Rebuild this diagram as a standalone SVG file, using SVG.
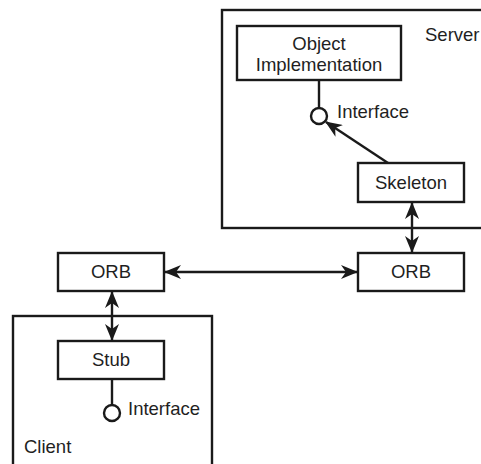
<svg xmlns="http://www.w3.org/2000/svg" width="481" height="464" viewBox="0 0 481 464">
  <style>
    .box { fill: #fff; stroke: #1a1a1a; stroke-width: 2.4; }
    .area { fill: none; stroke: #1a1a1a; stroke-width: 2.4; }
    .line { fill: none; stroke: #1a1a1a; stroke-width: 2.4; }
    .port { fill: #fff; stroke: #1a1a1a; stroke-width: 2.4; }
    text { font-family: "Liberation Sans", Arial, sans-serif; font-size: 18.5px; fill: #1f1f1f; }
    .c { text-anchor: middle; }
  </style>
  <defs>
    <marker id="head" viewBox="0 0 17 14" refX="16" refY="7" markerWidth="17" markerHeight="14" markerUnits="userSpaceOnUse" orient="auto-start-reverse">
      <path d="M0,0 L17,7 L0,14 L5,7 Z" fill="#1a1a1a"/>
    </marker>
  </defs>
  <rect width="481" height="464" fill="#fff"/>

  <!-- Server process (right side runs past the page edge) -->
  <g id="server">
    <rect class="area" x="222" y="10" width="280" height="218"/>
    <text x="425" y="41">Server</text>
  </g>

  <!-- Client process (bottom runs past the page edge) -->
  <g id="client">
    <rect class="area" x="13" y="316" width="199" height="170"/>
    <text x="24" y="453">Client</text>
  </g>

  <g id="object-implementation">
    <rect class="box" x="237" y="26" width="164" height="54"/>
    <text class="c" x="319" y="50">Object</text>
    <text class="c" x="319" y="71">Implementation</text>
  </g>

  <g id="server-interface">
    <line class="line" x1="319" y1="80" x2="319" y2="108"/>
    <circle class="port" cx="319" cy="116" r="8"/>
    <text x="337" y="118">Interface</text>
  </g>

  <g id="skeleton">
    <rect class="box" x="358" y="163" width="106" height="39"/>
    <text class="c" x="411" y="189">Skeleton</text>
  </g>

  <g id="orb-client">
    <rect class="box" x="58" y="253" width="106" height="38"/>
    <text class="c" x="111" y="278">ORB</text>
  </g>

  <g id="orb-server">
    <rect class="box" x="358" y="253" width="106" height="38"/>
    <text class="c" x="411" y="278">ORB</text>
  </g>

  <g id="stub">
    <rect class="box" x="58" y="341" width="106" height="38"/>
    <text class="c" x="111" y="366">Stub</text>
  </g>

  <g id="client-interface">
    <line class="line" x1="112" y1="379" x2="112" y2="405"/>
    <circle class="port" cx="112" cy="413" r="8"/>
    <text x="128" y="415">Interface</text>
  </g>

  <!-- Connectors -->
  <g id="connectors">
    <line class="line" x1="388" y1="163" x2="326" y2="122" marker-end="url(#head)"/>
    <line class="line" x1="412" y1="203" x2="412" y2="252" marker-start="url(#head)" marker-end="url(#head)"/>
    <line class="line" x1="165" y1="272" x2="357" y2="272" marker-start="url(#head)" marker-end="url(#head)"/>
    <line class="line" x1="112" y1="292" x2="112" y2="340" marker-start="url(#head)" marker-end="url(#head)"/>
  </g>
</svg>
